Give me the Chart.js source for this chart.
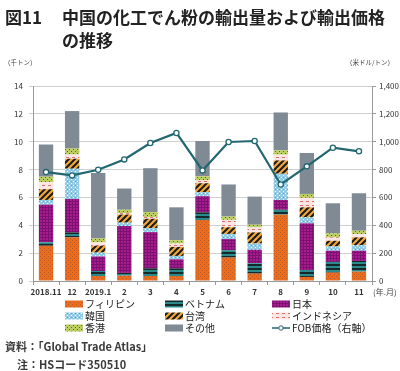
<!DOCTYPE html>
<html>
<head>
<meta charset="utf-8">
<script src="https://cdn.jsdelivr.net/npm/chart.js@4"></script>
<style>
  body { margin: 0; background: #fff; font-family: "Noto Sans CJK JP", sans-serif; }
  #wrap { position: relative; width: 400px; height: 371px; overflow: hidden; }
  #chart { position: absolute; left: 0; top: 0; }
  .t { position: absolute; white-space: nowrap; color: #222; }
  .title { font-size: 17px; font-weight: bold; line-height: 22px; }
  .unit { font-size: 6.5px; color: #444; }
  .note { font-size: 11px; font-weight: bold; color: #3a3a3a; }
</style>
</head>
<body>
<div id="wrap">
  <canvas id="chart" width="400" height="371"></canvas>
  <div class="t title" style="left:5px; top:6px;">図11</div>
  <div class="t title" style="left:62px; top:6px;">中国の化工でん粉の輸出量および輸出価格</div>
  <div class="t title" style="left:62px; top:29px;">の推移</div>
  <div class="t unit" style="left:4px; top:57px;">（千トン）</div>
  <div class="t unit" style="left:346px; top:57px;">（米ドル/トン）</div>
  <div class="t unit" style="left:373px; top:286px; font-size:8px;">(年.月)</div>
  <div class="t note" style="left:5px; top:338px;">資料：「Global Trade Atlas」</div>
  <div class="t note" style="left:17px; top:356px;">注：HSコード350510</div>
</div>
<script>
// 輸出量（千トン）
var categories = ['2018.11', '12', '2019.1', '2', '3', '4', '5', '6', '7', '8', '9', '10', '11'];
var philippines = [2.53, 3.13, 0.36, 0.38, 0.36, 0.36, 4.38, 1.68, 0.53, 4.76, 0.29, 0.60, 0.67];
var vietnam = [0.25, 0.36, 0.36, 0.20, 0.55, 0.55, 0.55, 0.53, 0.74, 0.36, 0.50, 0.77, 0.77];
var japan = [2.70, 2.40, 1.04, 3.37, 2.60, 0.65, 1.16, 0.80, 0.97, 0.70, 3.35, 0.80, 0.73];
var korea = [0.34, 2.17, 0.28, 0.24, 0.29, 0.24, 0.28, 0.37, 0.45, 1.88, 0.43, 0.31, 0.40];
var taiwan = [0.77, 0.72, 0.49, 0.58, 0.67, 0.65, 0.65, 0.48, 0.80, 0.96, 0.72, 0.41, 0.56];
var indonesia = [0.50, 0.30, 0.24, 0.10, 0.12, 0.24, 0.20, 0.53, 0.36, 0.41, 0.68, 0.24, 0.24];
var hongkong = [0.40, 0.43, 0.29, 0.25, 0.36, 0.24, 0.30, 0.24, 0.19, 0.31, 0.28, 0.29, 0.24];
var others = [2.31, 2.69, 4.69, 1.52, 3.15, 2.36, 2.53, 2.30, 2.02, 2.72, 2.94, 2.16, 2.69];
// FOB価格（米ドル/トン）
var fobPrice = [782, 758, 799, 873, 991, 1063, 794, 998, 1005, 693, 823, 957, 931];

var leftTicks = [0, 2, 4, 6, 8, 10, 12, 14];
var rightTicks = [0, 200, 400, 600, 800, 1000, 1200, 1400];

function makePattern(w, h, draw) {
    var c = document.createElement('canvas');
    c.width = w; c.height = h;
    var g = c.getContext('2d');
    draw(g);
    return g.createPattern(c, 'repeat');
}

var patPhil = makePattern(4, 4, function(g) {
    g.fillStyle = '#ec6c1e'; g.fillRect(0, 0, 4, 4);
    g.fillStyle = '#b65a2c'; g.fillRect(0, 0, 1, 1); g.fillRect(2, 2, 1, 1);
});
var patViet = makePattern(2, 4, function(g) {
    g.fillStyle = '#2b8a8c'; g.fillRect(0, 0, 2, 4);
    g.fillStyle = '#15282a'; g.fillRect(0, 0, 2, 2);
});
var patJapan = makePattern(3, 3, function(g) {
    g.fillStyle = '#a81c90'; g.fillRect(0, 0, 3, 3);
    g.fillStyle = '#7c1270'; g.fillRect(0, 0, 3, 1); g.fillRect(0, 0, 1, 3);
});
var patKorea = makePattern(4, 4, function(g) {
    g.fillStyle = '#93cce4'; g.fillRect(0, 0, 4, 4);
    g.fillStyle = '#ffffff'; g.fillRect(1, 1, 1, 1); g.fillRect(3, 3, 1, 1);
    g.fillStyle = '#5fa8c8'; g.fillRect(3, 1, 1, 1);
});
var patTaiwan = makePattern(6, 6, function(g) {
    g.fillStyle = '#f2a73a'; g.fillRect(0, 0, 6, 6);
    g.strokeStyle = '#1a1a1a'; g.lineWidth = 2;
    g.beginPath();
    g.moveTo(-1, 7); g.lineTo(7, -1);
    g.moveTo(-4, 4); g.lineTo(4, -4);
    g.moveTo(2, 10); g.lineTo(10, 2);
    g.stroke();
});
var patIndo = makePattern(6, 4, function(g) {
    g.fillStyle = '#fbe6e4'; g.fillRect(0, 0, 6, 4);
    g.fillStyle = '#e0706a'; g.fillRect(0, 1, 3, 1);
});
var patHK = makePattern(4, 4, function(g) {
    g.fillStyle = '#bccd62'; g.fillRect(0, 0, 4, 4);
    g.fillStyle = '#4f6b2e'; g.fillRect(1, 1, 1, 1); g.fillRect(3, 3, 1, 1);
});

var lineColor = '#22666f';

function bar(label, data, bg) {
    return { type: 'bar', label: label, data: data, backgroundColor: bg, yAxisID: 'y', order: 1,
             barPercentage: 0.55, categoryPercentage: 1.0 };
}

var legendPlugin = {
    id: 'gridLegend',
    afterDraw: function(chart) {
        var ctx = chart.ctx;
        var cols = [65, 165, 272];
        var rows = [304, 316, 328];
        ctx.save();
        ctx.font = '10px "Noto Sans CJK JP"';
        ctx.textBaseline = 'middle';
        chart.data.datasets.forEach(function(ds, i) {
            var x = cols[i % 3], y = rows[Math.floor(i / 3)];
            if (ds.type === 'line') {
                ctx.strokeStyle = lineColor; ctx.lineWidth = 1.5;
                ctx.beginPath(); ctx.moveTo(x, y); ctx.lineTo(x + 18, y); ctx.stroke();
                ctx.beginPath(); ctx.arc(x + 9, y, 2.2, 0, Math.PI * 2);
                ctx.fillStyle = '#fff'; ctx.fill(); ctx.lineWidth = 1; ctx.stroke();
            } else {
                ctx.fillStyle = ds.backgroundColor;
                ctx.fillRect(x, y - 3.5, 18, 7);
            }
            ctx.fillStyle = '#222';
            ctx.fillText(ds.label, x + 20, y + 0.5);
        });
        ctx.restore();
    }
};

var ctx = document.getElementById('chart').getContext('2d');
var chart = new Chart(ctx, {
    data: {
        labels: categories,
        datasets: [
            bar('フィリピン', philippines, patPhil),
            bar('ベトナム', vietnam, patViet),
            bar('日本', japan, patJapan),
            bar('韓国', korea, patKorea),
            bar('台湾', taiwan, patTaiwan),
            bar('インドネシア', indonesia, patIndo),
            bar('香港', hongkong, patHK),
            bar('その他', others, '#7f8a94'),
            {
                type: 'line', label: 'FOB価格（右軸）', data: fobPrice, yAxisID: 'y1', order: 0,
                borderColor: lineColor, borderWidth: 2.2, backgroundColor: '#fff',
                pointRadius: 2.6, pointBorderWidth: 1.3, pointBorderColor: lineColor,
                pointBackgroundColor: '#fff', tension: 0, stack: 'line'
            }
        ]
    },
    options: {
        responsive: false,
        animation: false,
        layout: { padding: { left: 0, right: 0, top: 86, bottom: 0 } },
        plugins: { legend: { display: false }, tooltip: { enabled: false } },
        scales: {
            x: {
                stacked: true,
                grid: { display: true, drawOnChartArea: false, offset: true, tickLength: 4, color: '#999' },
                border: { color: '#999' },
                ticks: { color: '#333', font: { size: 8, weight: 'bold', family: '"Noto Sans CJK JP"' }, padding: 2, maxRotation: 0, autoSkip: false },
                afterFit: function(s) { s.height = 90; }
            },
            y: {
                stacked: true,
                position: 'left',
                min: 0, max: 14,
                afterBuildTicks: function(s) { s.ticks = leftTicks.map(function(v) { return { value: v }; }); },
                grid: { color: '#cfcfcf', tickLength: 4 },
                border: { color: '#999' },
                ticks: { color: '#333', font: { size: 8, family: '"Noto Sans CJK JP"' }, padding: 6 },
                afterFit: function(s) { s.width = 33; }
            },
            y1: {
                position: 'right',
                min: 0, max: 1400,
                afterBuildTicks: function(s) { s.ticks = rightTicks.map(function(v) { return { value: v }; }); },
                grid: { drawOnChartArea: false, tickLength: 4, color: '#999' },
                border: { color: '#999' },
                ticks: { color: '#333', font: { size: 8, family: '"Noto Sans CJK JP"' }, padding: 3,
                         callback: function(v) { return v.toLocaleString('en-US'); } },
                afterFit: function(s) { s.width = 28; }
            }
        }
    },
    plugins: [legendPlugin]
});
</script>
</body>
</html>
